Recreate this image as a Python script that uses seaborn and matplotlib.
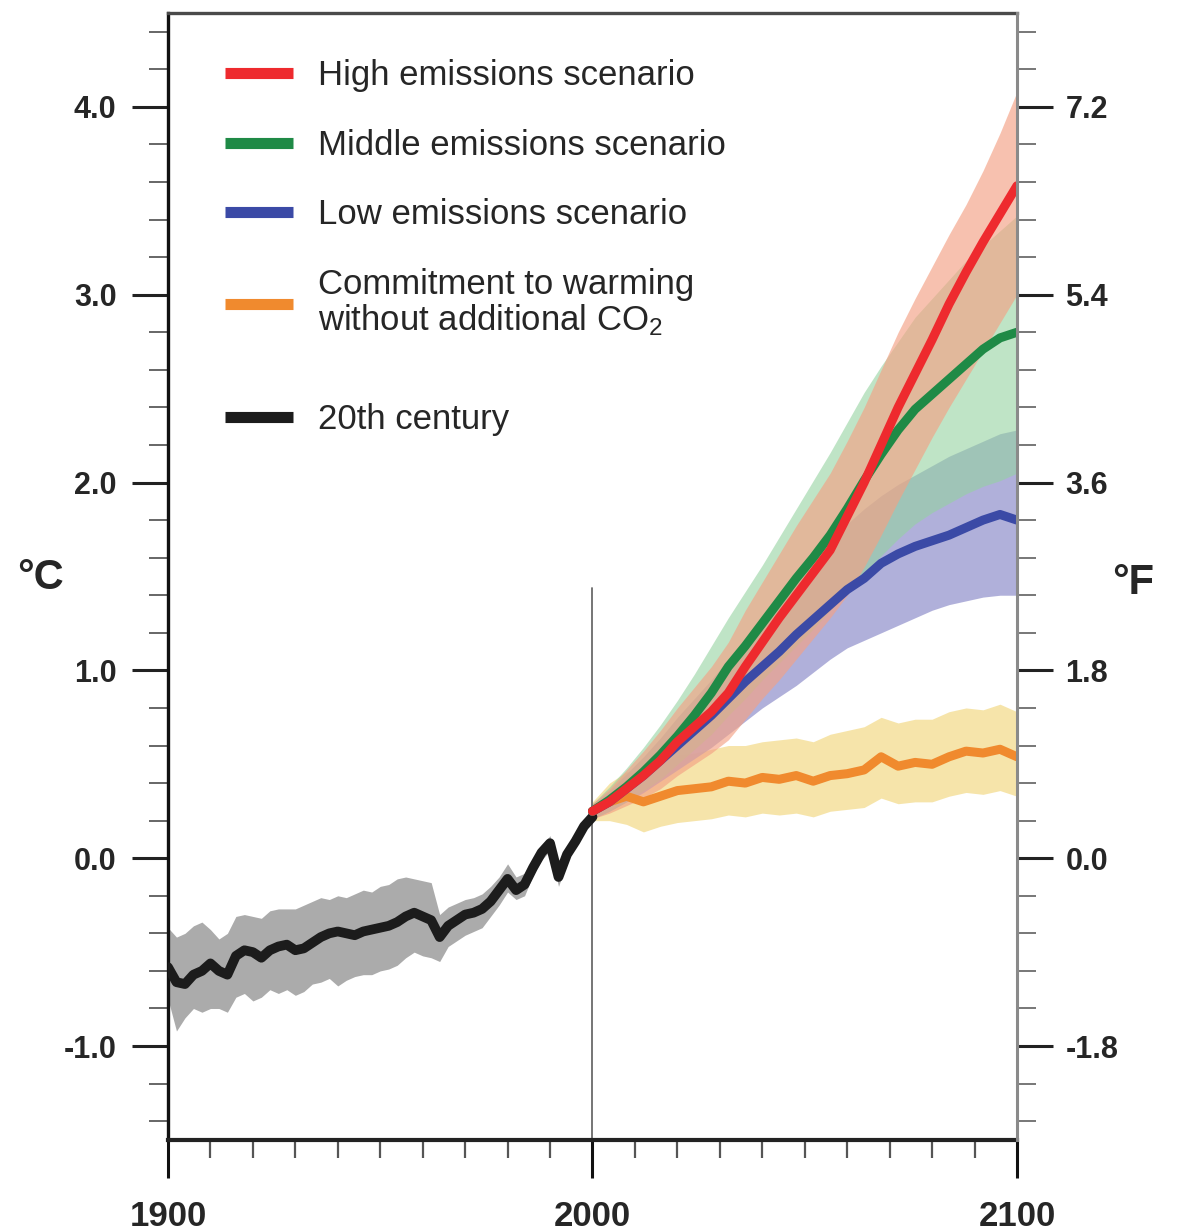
import numpy as np
import pandas as pd
import matplotlib.pyplot as plt
import seaborn as sns
from matplotlib.lines import Line2D

# 20th century (observed/simulated), every 2 years
hist_years = list(range(1900, 2001, 2))
hist_mean = [-0.58, -0.66, -0.67, -0.62, -0.60, -0.56, -0.60, -0.62, -0.52, -0.49,
             -0.50, -0.53, -0.49, -0.47, -0.46, -0.49, -0.48, -0.45, -0.42, -0.40,
             -0.39, -0.40, -0.41, -0.39, -0.38, -0.37, -0.36, -0.34, -0.31, -0.29,
             -0.31, -0.33, -0.42, -0.36, -0.33, -0.30, -0.29, -0.27, -0.23, -0.17,
             -0.11, -0.17, -0.14, -0.05, 0.03, 0.08, -0.10, 0.02, 0.09, 0.17, 0.22]
hist_high = [-0.37, -0.42, -0.40, -0.36, -0.34, -0.38, -0.43, -0.40, -0.31, -0.30,
             -0.31, -0.32, -0.28, -0.27, -0.27, -0.27, -0.25, -0.23, -0.21, -0.22,
             -0.20, -0.21, -0.19, -0.17, -0.18, -0.15, -0.14, -0.11, -0.10, -0.11,
             -0.12, -0.13, -0.30, -0.26, -0.24, -0.22, -0.21, -0.19, -0.15, -0.10,
             -0.03, -0.10, -0.08, 0.00, 0.07, 0.12, -0.05, 0.06, 0.13, 0.20, 0.25]
hist_low = [-0.75, -0.92, -0.85, -0.80, -0.82, -0.80, -0.80, -0.82, -0.74, -0.72,
            -0.76, -0.74, -0.70, -0.72, -0.70, -0.73, -0.71, -0.67, -0.66, -0.64,
            -0.68, -0.65, -0.63, -0.62, -0.62, -0.60, -0.59, -0.57, -0.53, -0.50,
            -0.52, -0.53, -0.55, -0.47, -0.44, -0.41, -0.39, -0.37, -0.31, -0.25,
            -0.18, -0.22, -0.20, -0.09, -0.01, 0.04, -0.15, -0.02, 0.06, 0.14, 0.19]

# projections, every 4 years
proj_years = list(range(2000, 2101, 4))
high_mean = [0.25, 0.30, 0.37, 0.44, 0.52, 0.62, 0.70, 0.78, 0.88, 1.02, 1.15, 1.28, 1.40,
             1.52, 1.64, 1.82, 2.00, 2.20, 2.40, 2.58, 2.76, 2.95, 3.12, 3.28, 3.43, 3.58]
high_up = [0.29, 0.37, 0.47, 0.57, 0.68, 0.80, 0.91, 1.02, 1.15, 1.32, 1.47, 1.62, 1.77,
           1.91, 2.05, 2.22, 2.40, 2.60, 2.80, 2.98, 3.15, 3.32, 3.48, 3.66, 3.86, 4.08]
high_lo = [0.21, 0.24, 0.28, 0.32, 0.37, 0.44, 0.50, 0.56, 0.63, 0.74, 0.85, 0.95, 1.06,
           1.17, 1.28, 1.40, 1.55, 1.72, 1.90, 2.07, 2.24, 2.40, 2.55, 2.70, 2.85, 3.00]

mid_mean = [0.25, 0.31, 0.38, 0.46, 0.55, 0.65, 0.76, 0.88, 1.02, 1.13, 1.25, 1.37, 1.49,
            1.60, 1.72, 1.86, 2.01, 2.15, 2.28, 2.39, 2.47, 2.55, 2.63, 2.71, 2.77, 2.80]
mid_up = [0.29, 0.38, 0.48, 0.59, 0.71, 0.84, 0.98, 1.13, 1.28, 1.42, 1.56, 1.71, 1.86,
          2.01, 2.16, 2.32, 2.48, 2.62, 2.75, 2.88, 2.98, 3.08, 3.18, 3.26, 3.34, 3.42]
mid_lo = [0.21, 0.25, 0.30, 0.36, 0.42, 0.50, 0.58, 0.66, 0.76, 0.85, 0.95, 1.04, 1.13,
          1.22, 1.32, 1.42, 1.52, 1.61, 1.70, 1.78, 1.84, 1.89, 1.94, 1.98, 2.01, 2.05]

low_mean = [0.25, 0.30, 0.37, 0.44, 0.52, 0.60, 0.68, 0.76, 0.85, 0.94, 1.02, 1.10, 1.19,
            1.27, 1.35, 1.43, 1.49, 1.57, 1.62, 1.66, 1.69, 1.72, 1.76, 1.80, 1.83, 1.80]
low_up = [0.29, 0.36, 0.45, 0.54, 0.64, 0.75, 0.85, 0.95, 1.06, 1.17, 1.28, 1.38, 1.48,
          1.58, 1.68, 1.78, 1.86, 1.93, 1.99, 2.04, 2.09, 2.14, 2.18, 2.22, 2.26, 2.28]
low_lo = [0.21, 0.25, 0.30, 0.35, 0.41, 0.47, 0.53, 0.59, 0.66, 0.73, 0.80, 0.86, 0.92,
          0.99, 1.06, 1.12, 1.16, 1.20, 1.24, 1.28, 1.32, 1.35, 1.37, 1.39, 1.40, 1.40]

commit_mean = [0.25, 0.30, 0.33, 0.30, 0.33, 0.36, 0.37, 0.38, 0.41, 0.40, 0.43, 0.42, 0.44,
               0.41, 0.44, 0.45, 0.47, 0.54, 0.49, 0.51, 0.50, 0.54, 0.57, 0.56, 0.58, 0.54]
commit_up = [0.30, 0.40, 0.46, 0.45, 0.50, 0.55, 0.56, 0.58, 0.60, 0.60, 0.62, 0.63, 0.64,
             0.62, 0.66, 0.68, 0.70, 0.75, 0.72, 0.74, 0.74, 0.78, 0.80, 0.79, 0.82, 0.78]
commit_lo = [0.20, 0.20, 0.18, 0.14, 0.17, 0.19, 0.20, 0.21, 0.23, 0.22, 0.24, 0.23, 0.24,
             0.22, 0.25, 0.26, 0.27, 0.32, 0.29, 0.30, 0.30, 0.33, 0.35, 0.34, 0.36, 0.33]

labels = ['High emissions scenario', 'Middle emissions scenario', 'Low emissions scenario',
          'Commitment to warming\nwithout additional CO$_2$', '20th century']
c_ticks = [-1.0, 0.0, 1.0, 2.0, 3.0, 4.0]
x_ticks = [1900, 2000, 2100]
split_top = 1.44  # top of the 2000 divider line

sns.set_theme(style='ticks')
plt.rcParams['font.family'] = ['Liberation Sans', 'DejaVu Sans']
plt.rcParams['mathtext.default'] = 'regular'

fig = plt.figure(figsize=(11.78, 12.32), dpi=100)
ax = fig.add_axes([0.1426, 0.0747, 0.7207, 0.9148])

# bands
ax.fill_between(proj_years, commit_lo, commit_up, color='#f3dc8e', alpha=0.75, lw=0, zorder=1)
ax.fill_between(proj_years, low_lo, low_up, color='#a3a3d4', alpha=0.85, lw=0, zorder=1)
ax.fill_between(proj_years, mid_lo, mid_up, color='#95d3a0', alpha=0.6, lw=0, zorder=1)
ax.fill_between(proj_years, high_lo, high_up, color='#f4a184', alpha=0.65, lw=0, zorder=1)
ax.fill_between(hist_years, hist_low, hist_high, color='#ababab', lw=0, zorder=1)

ylo, yhi = -1.5, 4.5
ax.axvline(2000, ymin=0, ymax=(split_top - ylo) / (yhi - ylo), color='#6a6a6a', lw=1.3, zorder=1.5)

lw = 6.5
sns.lineplot(x=hist_years, y=hist_mean, color='#1c1c1c', linewidth=7, ax=ax, zorder=3)
sns.lineplot(x=proj_years, y=commit_mean, color='#f08a2e', linewidth=lw, ax=ax, zorder=3)
sns.lineplot(x=proj_years, y=low_mean, color='#3b4aa6', linewidth=lw, ax=ax, zorder=3)
sns.lineplot(x=proj_years, y=mid_mean, color='#1f8a46', linewidth=lw, ax=ax, zorder=3)
sns.lineplot(x=proj_years, y=high_mean, color='#ee2a2e', linewidth=lw, ax=ax, zorder=3)

ax.set_xlim(1900, 2100)
ax.set_ylim(ylo, yhi)
ax.set_xlabel('')
ax.set_ylabel('')

ax.set_xticks(x_ticks)
ax.set_xticks(range(1900, 2101, 10), minor=True)
ax.set_xticklabels([str(v) for v in x_ticks], fontsize=25, fontweight='bold')
ax.set_yticks(c_ticks)
ax.set_yticks(np.arange(-1.4, 4.5, 0.2), minor=True)
ax.set_yticklabels([f'{v:.1f}' for v in c_ticks], fontsize=22, fontweight='bold')
ax.tick_params(axis='x', which='major', length=27, width=2.2, pad=16, color='#111111')
ax.tick_params(axis='x', which='minor', length=13, width=1.6, color='#555555')
ax.tick_params(axis='y', which='major', length=26, width=2.2, pad=11, color='#222222')
ax.tick_params(axis='y', which='minor', length=14, width=1.4, color='#666666')

ax2 = ax.twinx()
ax2.set_ylim(ylo, yhi)
ax2.set_yticks(c_ticks)
ax2.set_yticks(np.arange(-1.4, 4.5, 0.2), minor=True)
ax2.set_yticklabels([f'{v * 1.8:.1f}' for v in c_ticks], fontsize=22, fontweight='bold')
ax2.tick_params(axis='y', which='major', length=26, width=2.2, pad=9, color='#222222')
ax2.tick_params(axis='y', which='minor', length=14, width=1.4, color='#777777')
for s in ['left', 'top', 'bottom']:
    ax2.spines[s].set_visible(False)
ax2.spines['right'].set_color('#8a8a8a')
ax2.spines['right'].set_linewidth(2.2)

ax.spines['left'].set_color('#111111')
ax.spines['left'].set_linewidth(2.4)
ax.spines['bottom'].set_color('#222222')
ax.spines['bottom'].set_linewidth(3)
ax.spines['top'].set_color('#4a4a4a')
ax.spines['top'].set_linewidth(2.4)
ax.spines['right'].set_visible(False)

fig.text(0.034, 0.531, '°C', fontsize=30, fontweight='bold', ha='center', va='center')
fig.text(0.962, 0.527, '°F', fontsize=30, fontweight='bold', ha='center', va='center')

handles = [Line2D([], [], color=c, lw=8, solid_capstyle='butt')
           for c in ['#ee2a2e', '#1f8a46', '#3b4aa6', '#f08a2e', '#1c1c1c']]
leg1 = ax.legend(handles[:4], labels[:4], loc='upper left', bbox_to_anchor=(0.067, 0.9587),
                 frameon=False, fontsize=25, handlelength=1.96, handletextpad=0.72,
                 labelspacing=1.05, borderpad=0, borderaxespad=0)
for t in leg1.get_texts():
    t.set_linespacing(1.05)
ax.add_artist(leg1)
ax.legend(handles[4:], labels[4:], loc='upper left', bbox_to_anchor=(0.067, 0.6535),
          frameon=False, fontsize=25, handlelength=1.96, handletextpad=0.72,
          borderpad=0, borderaxespad=0)

fig.savefig('out.png', dpi=100)
